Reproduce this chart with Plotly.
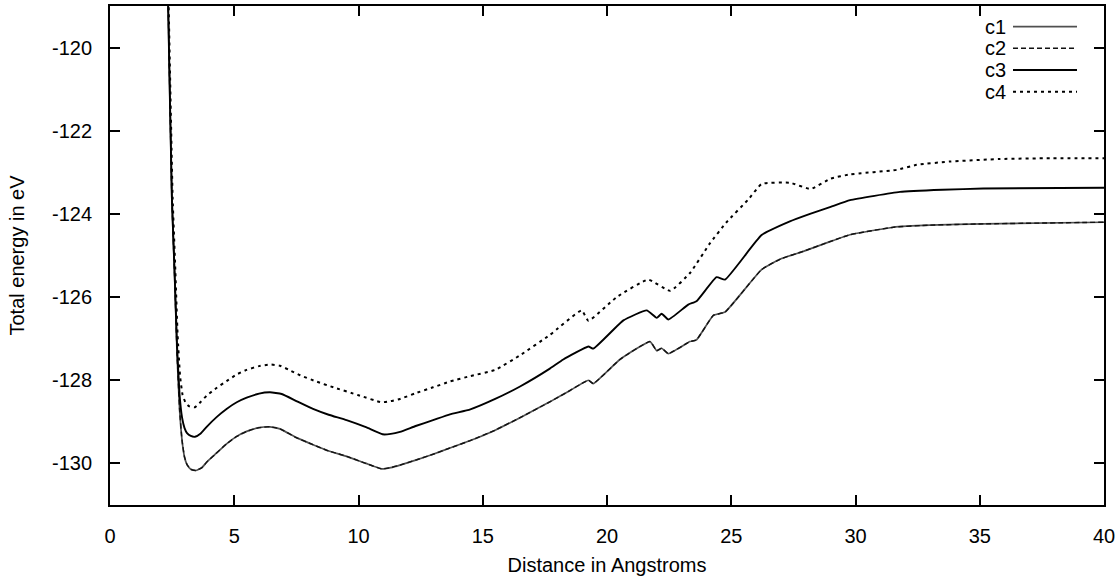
import plotly.graph_objects as go

# ---- data ----
c1_x = [2.2, 2.34, 2.49, 2.6, 2.7, 2.8, 2.9, 3.0, 3.1, 3.25, 3.45, 3.7, 3.89, 4.2, 4.69, 5.1,
        5.5, 6.0, 6.44, 6.84, 7.5, 8.17, 8.8, 9.52, 10.3, 10.93, 11.3, 11.67, 12.3, 13.0,
        13.68, 14.5, 15.5, 16.5, 17.7, 18.5, 19.25, 19.45, 20.52, 21.73, 22.0, 22.2, 22.47,
        23.34, 23.6, 24.28, 24.75, 26.22, 27.0, 27.9, 29.0, 29.78, 31.52, 33.0, 35.14, 40.0]
c1_y = [-115.0, -119.0, -123.65, -125.5, -127.4, -128.7, -129.45, -129.85, -130.03, -130.14,
        -130.17, -130.1, -129.97, -129.8, -129.53, -129.35, -129.23, -129.14, -129.12,
        -129.17, -129.38, -129.55, -129.7, -129.83, -130.0, -130.13, -130.1, -130.04,
        -129.92, -129.78, -129.63, -129.45, -129.2, -128.9, -128.52, -128.25, -128.0,
        -128.08, -127.5, -127.07, -127.29, -127.23, -127.36, -127.07, -127.03, -126.44,
        -126.36, -125.34, -125.08, -124.9, -124.66, -124.5, -124.32, -124.27, -124.24, -124.2]

c2_x = list(c1_x)
c2_y = [-115.0, -119.0, -123.65, -125.5, -127.4, -128.7, -129.45, -129.85, -130.03, -130.14,
        -130.17, -130.1, -129.97, -129.8, -129.53, -129.35, -129.23, -129.14, -129.12,
        -129.17, -129.38, -129.55, -129.7, -129.83, -130.0, -130.13, -130.1, -130.04,
        -129.92, -129.78, -129.63, -129.45, -129.2, -128.9, -128.52, -128.25, -128.0,
        -128.08, -127.5, -127.07, -127.29, -127.23, -127.36, -127.07, -127.03, -126.44,
        -126.36, -125.34, -125.08, -124.9, -124.66, -124.5, -124.32, -124.27, -124.24, -124.2]

c3_x = [2.2, 2.34, 2.49, 2.6, 2.7, 2.8, 2.9, 3.0, 3.1, 3.25, 3.42, 3.65, 3.89, 4.3, 4.69, 5.1,
        5.5, 6.0, 6.44, 6.91, 7.5, 8.17, 8.8, 9.52, 10.3, 10.97, 11.3, 11.67, 12.3, 13.0,
        13.68, 14.5, 15.5, 16.5, 17.7, 18.24, 19.25, 19.45, 20.66, 21.6, 22.0, 22.2, 22.47,
        23.27, 23.6, 24.41, 24.75, 26.22, 27.36, 28.17, 29.0, 29.78, 31.79, 33.5, 35.14, 40.0]
c3_y = [-115.0, -119.0, -123.6, -125.4, -127.2, -128.35, -128.9, -129.15, -129.27, -129.34,
        -129.36, -129.28, -129.12, -128.88, -128.69, -128.53, -128.42, -128.32, -128.29,
        -128.33, -128.5, -128.69, -128.83, -128.96, -129.13, -129.3, -129.29, -129.24,
        -129.1, -128.96, -128.82, -128.7, -128.45, -128.15, -127.72, -127.5, -127.19,
        -127.24, -126.56, -126.32, -126.5, -126.4, -126.54, -126.18, -126.1, -125.52,
        -125.58, -124.51, -124.18, -124.0, -123.83, -123.67, -123.47, -123.42, -123.39, -123.37]

c4_x = [2.2, 2.36, 2.52, 2.62, 2.72, 2.82, 2.92, 3.05, 3.2, 3.42, 3.65, 3.89, 4.3, 4.69, 5.1,
        5.5, 6.0, 6.44, 6.84, 7.2, 7.65, 8.3, 8.99, 10.0, 10.93, 11.3, 11.67, 12.3, 13.0,
        13.68, 14.5, 15.5, 16.5, 17.7, 18.98, 19.25, 20.39, 21.66, 22.54, 23.34, 24.14,
        24.81, 25.69, 26.22, 27.36, 28.2, 29.0, 29.78, 31.66, 32.46, 33.8, 35.81, 37.83, 40.0]
c4_y = [-115.0, -119.0, -123.6, -125.2, -126.9, -127.9, -128.35, -128.55, -128.63, -128.65,
        -128.52, -128.37, -128.18, -128.02, -127.86, -127.75, -127.66, -127.62, -127.65,
        -127.75, -127.88, -128.03, -128.17, -128.36, -128.53, -128.5, -128.45, -128.31,
        -128.17, -128.03, -127.9, -127.75, -127.4, -126.91, -126.32, -126.57, -126.0,
        -125.58, -125.85, -125.42, -124.71, -124.2, -123.65, -123.28, -123.25, -123.4,
        -123.15, -123.05, -122.94, -122.82, -122.74, -122.68, -122.66, -122.66]

names = ["c1", "c2", "c3", "c4"]
x_ticks = [0, 5, 10, 15, 20, 25, 30, 35, 40]
y_ticks = [-120, -122, -124, -126, -128, -130]

FONT = "Liberation Sans, Arial, Helvetica, sans-serif"
styles = {
    "c1": dict(color="#505050", width=1.7, dash="solid"),
    "c2": dict(color="#111111", width=1.4, dash="5px,3px"),
    "c3": dict(color="#000000", width=1.9, dash="solid"),
    "c4": dict(color="#000000", width=2.0, dash="3px,4px"),
}

fig = go.Figure()
series = [(c1_x, c1_y), (c2_x, c2_y), (c3_x, c3_y), (c4_x, c4_y)]
for name, (xs, ys) in zip(names, series):
    fig.add_trace(go.Scatter(x=xs, y=ys, mode="lines", name=name,
                             line=dict(styles[name], shape="spline", smoothing=0.4),
                             showlegend=False))

# gnuplot-style key: label on the left, sample on the right
L, R, T, B = 110, 16, 4, 66
W, H = 1120 - L - R, 577 - T - B
row_px = [25, 47, 69, 91]
for name, py in zip(names, row_px):
    yp = (577 - B - py) / H
    fig.add_annotation(xref="paper", yref="paper", x=(1008 - L) / W, y=yp,
                       text=name, showarrow=False, xanchor="right", yanchor="middle",
                       font=dict(family=FONT, size=20, color="black"))
    st = styles[name]
    fig.add_shape(type="line", xref="paper", yref="paper",
                  x0=(1013 - L) / W, x1=(1077 - L) / W, y0=yp, y1=yp,
                  line=dict(color=st["color"], width=st["width"], dash=st["dash"]))

fig.update_layout(
    width=1120, height=577,
    margin=dict(l=L, r=R, t=T, b=B, pad=0),
    paper_bgcolor="white", plot_bgcolor="white",
    font=dict(family=FONT, size=20, color="black"),
)
fig.update_xaxes(range=[0, 40], tickvals=x_ticks, ticktext=[str(v) for v in x_ticks],
                 ticks="inside", ticklen=10, tickwidth=1.5, tickcolor="black",
                 showline=True, linecolor="black", linewidth=2, mirror="ticks",
                 showgrid=False, zeroline=False, ticklabelstandoff=12,
                 title=dict(text="Distance in Angstroms", standoff=12,
                            font=dict(family=FONT, size=20)))
fig.update_yaxes(range=[-131, -119], tickvals=y_ticks, ticktext=[str(v) for v in y_ticks],
                 ticks="inside", ticklen=10, tickwidth=1.5, tickcolor="black",
                 showline=True, linecolor="black", linewidth=2, mirror="ticks",
                 showgrid=False, zeroline=False, ticklabelstandoff=12,
                 title=dict(text="Total energy in eV", standoff=22,
                            font=dict(family=FONT, size=20)))

fig.write_html("out.html")
